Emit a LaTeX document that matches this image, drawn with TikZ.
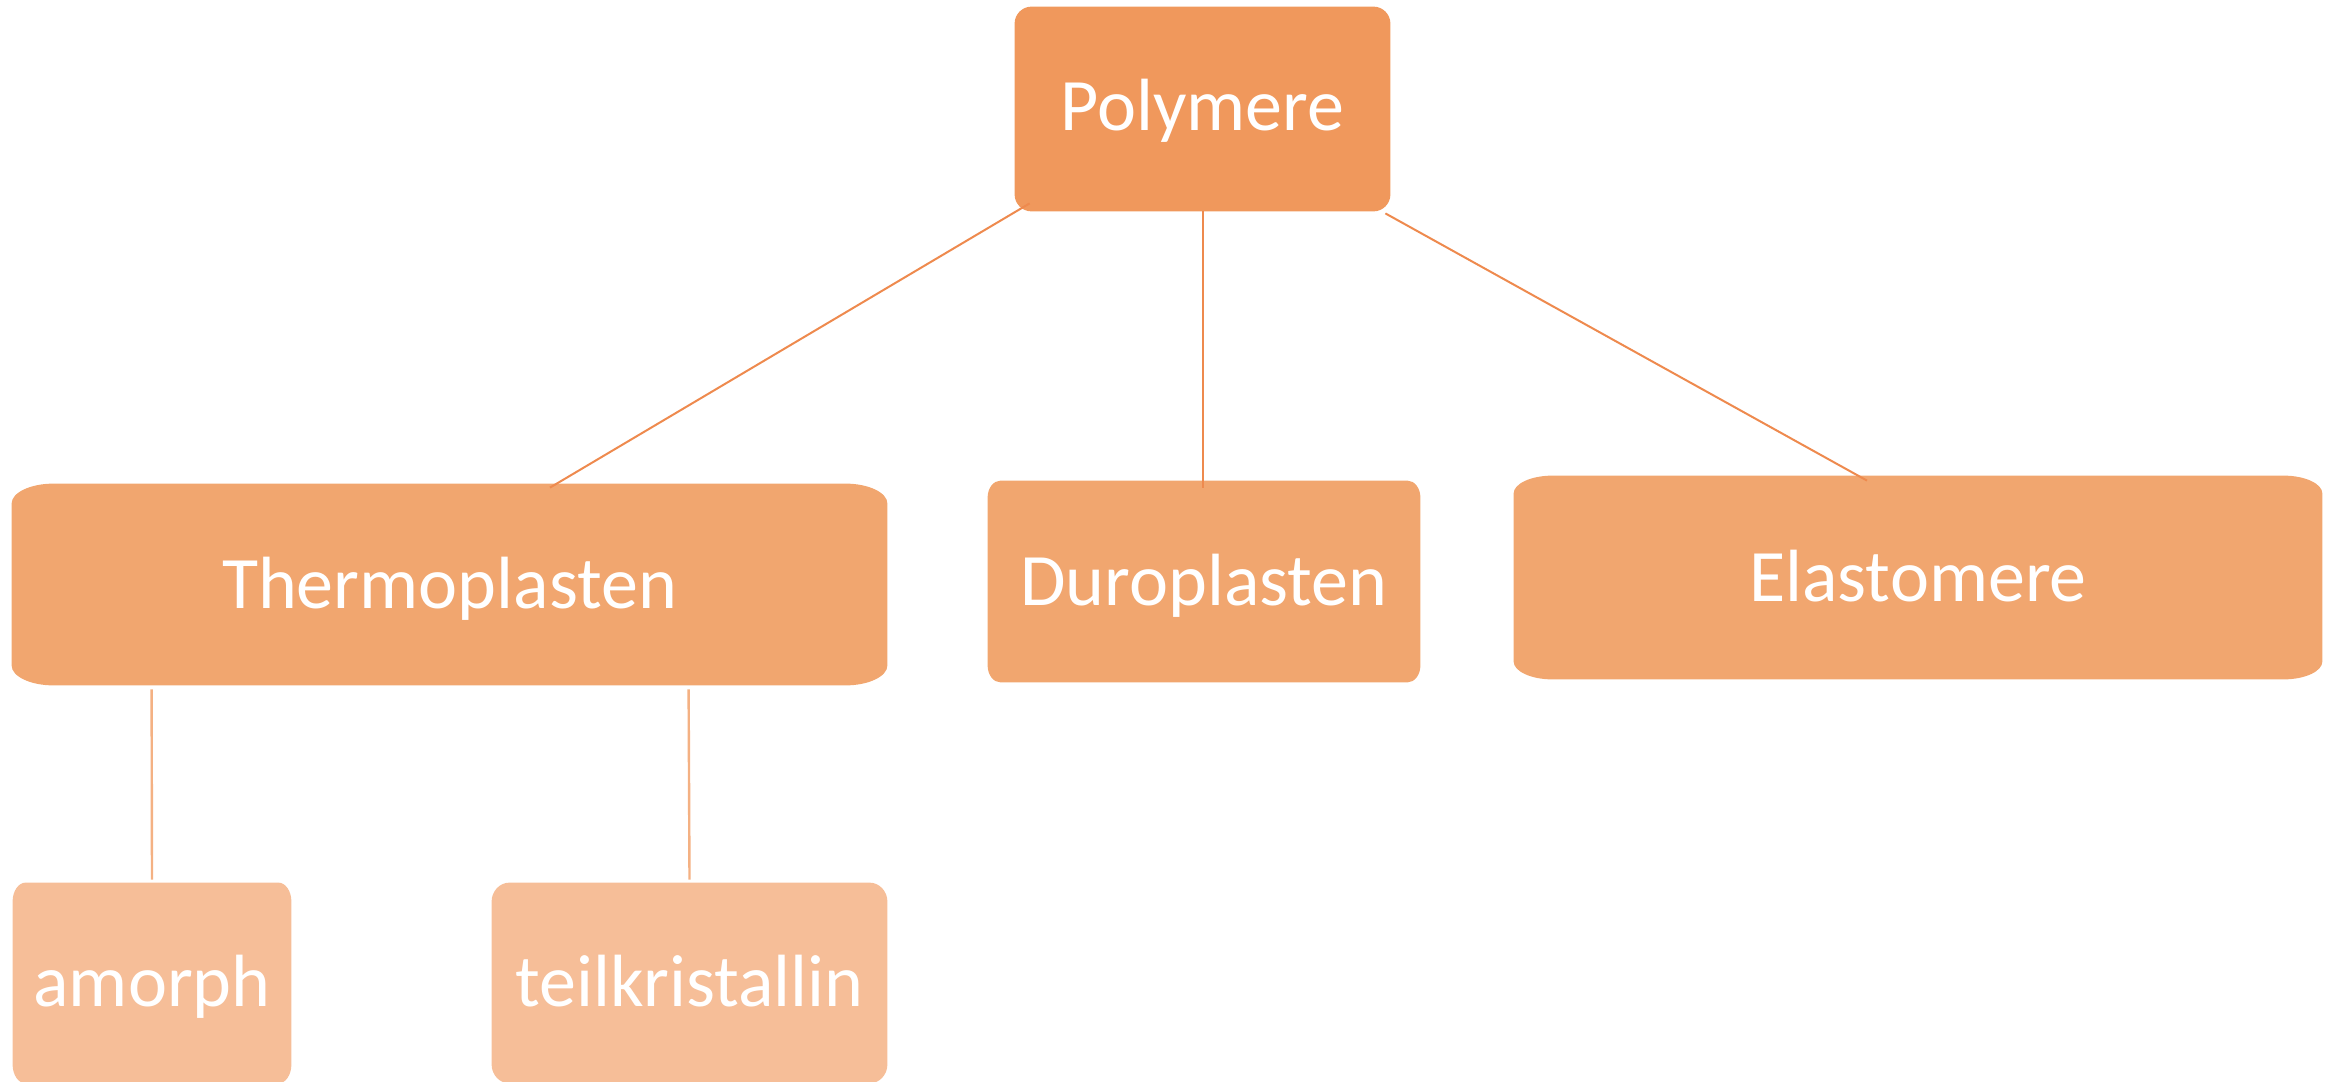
\documentclass[tikz,border=0pt]{standalone}
\usepackage{fontspec}
\setmainfont{Carlito}
\usetikzlibrary{calc,backgrounds}
\definecolor{polyc}{HTML}{F0985C}
\definecolor{midc}{HTML}{F1A66F}
\definecolor{lowc}{HTML}{F6BE98}
\definecolor{linec}{HTML}{EE8A4E}
\definecolor{linelow}{HTML}{F4B183}
% #1 node name, #2 x radius, #3 y radius, #4 colour
\newcommand\ellfill[4]{%
  \fill[#4] ([xshift=#2]#1.north west) -- ([xshift=-#2]#1.north east)
    arc[start angle=90,end angle=0,x radius=#2,y radius=#3]
    -- ([yshift=#3]#1.south east)
    arc[start angle=0,end angle=-90,x radius=#2,y radius=#3]
    -- ([xshift=#2]#1.south west)
    arc[start angle=270,end angle=180,x radius=#2,y radius=#3]
    -- ([yshift=-#3]#1.north west)
    arc[start angle=180,end angle=90,x radius=#2,y radius=#3] -- cycle;}
\begin{document}
\begin{tikzpicture}[x=0.5pt,y=-0.5pt,
  box/.style={rectangle,inner sep=0pt,text=white,
    font=\fontsize{37pt}{40pt}\selectfont,text height=23.5pt,text depth=0pt},
  conn/.style={draw=linec,line width=1pt},
  connlow/.style={draw=linelow,line width=1.2pt}]
\useasboundingbox (0,0) rectangle (2331,1082);
\begin{scope}
\clip (0,0) rectangle (2331,1082);
\node[box,minimum width=187.5pt,minimum height=102pt,text depth=2.5pt] (poly) at (1202.5,109) {Polymere};
\node[box,minimum width=437.5pt,minimum height=100.5pt] (thermo) at (449.5,584.5) {Thermoplasten};
\node[box,minimum width=216pt,minimum height=100.5pt] (duro) at (1204,581.5) {Duroplasten};
\node[box,minimum width=404pt,minimum height=101.5pt] (elasto) at (1918,577.5) {Elastomere};
\node[box,minimum width=139pt,minimum height=100pt] (amorph) at (152,983) {amorph};
\node[box,minimum width=197.5pt,minimum height=100pt] (teil) at (689.5,983) {teilkristallin};
\begin{scope}[on background layer]
\ellfill{poly}{8.5pt}{8.5pt}{polyc}
\ellfill{thermo}{21pt}{10pt}{midc}
\ellfill{duro}{6.5pt}{8.5pt}{midc}
\ellfill{elasto}{19.5pt}{9pt}{midc}
\ellfill{amorph}{6.5pt}{9.5pt}{lowc}
\ellfill{teil}{9pt}{9.5pt}{lowc}
\end{scope}
\draw[conn] ($(poly.south west)+(15,-8)$) -- ($(thermo.north)+(100.5,4)$);
\draw[conn] (poly.south) -- ($(poly.south |- duro.north)+(0,7)$);
\draw[conn] ($(poly.south east)+(-5,2)$) -- ($(elasto.north)+(-51,5)$);
\draw[connlow] ($(thermo.south west)+(140,4)$) -- ($(amorph.north)+(0,-3)$);
\draw[connlow] ($(thermo.south west)+(677,4)$) -- ($(teil.north)+(0,-3)$);
\end{scope}
\end{tikzpicture}
\end{document}
